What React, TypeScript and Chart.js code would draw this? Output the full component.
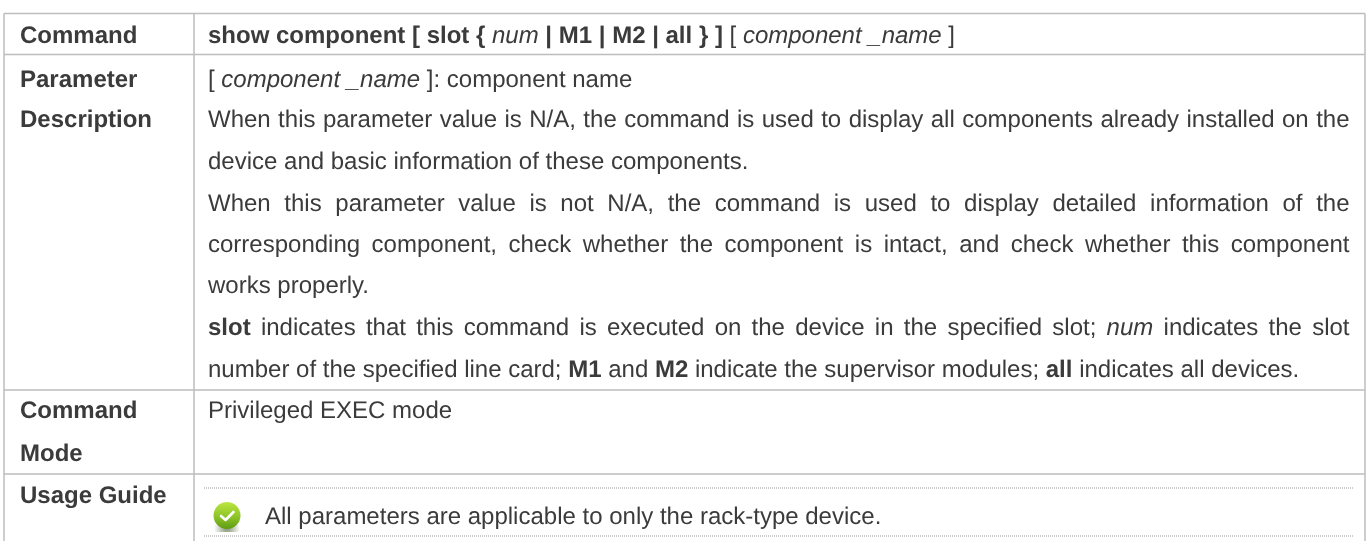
import React, { useEffect, useRef } from "react";
import { Chart, registerables } from "chart.js";

Chart.register(...registerables);

type Run = [string, string];

const columnRules = [4, 194, 1365];
const rowRules = [13.5, 54.5, 390, 474];
const noteRules = [488, 536];

const leftLabels: [string, number][] = [
  ["Command", 43],
  ["Parameter", 87],
  ["Description", 127],
  ["Command", 418],
  ["Mode", 461],
  ["Usage Guide", 503],
];

const commandLine: Run[] = [
  ["b", "show component [ slot { "],
  ["i", "num "],
  ["b", "| M1 | M2 | all } ] "],
  ["r", "[ "],
  ["i", "component _name "],
  ["r", "]"],
];
const paramLine1: Run[] = [
  ["r", "[ "],
  ["i", "component _name "],
  ["r", "]: component name"],
];
const paramLine2: Run[] = [["r", "When this parameter value is N/A, the command is used to display all components already installed on the"]];
const paramLine3: Run[] = [["r", "device and basic information of these components."]];
const paramLine4: Run[] = [["r", "When this parameter value is not N/A, the command is used to display detailed information of the"]];
const paramLine5: Run[] = [["r", "corresponding component, check whether the component is intact, and check whether this component"]];
const paramLine6: Run[] = [["r", "works properly."]];
const paramLine7: Run[] = [
  ["b", "slot "],
  ["r", "indicates that this command is executed on the device in the specified slot; "],
  ["i", "num "],
  ["r", "indicates the slot"],
];
const paramLine8: Run[] = [
  ["r", "number of the specified line card; "],
  ["b", "M1 "],
  ["r", "and "],
  ["b", "M2 "],
  ["r", "indicate the supervisor modules; "],
  ["b", "all "],
  ["r", "indicates all devices."],
];
const modeLine: Run[] = [["r", "Privileged EXEC mode"]];
const usageLine: Run[] = [["r", "All parameters are applicable to only the rack-type device."]];

const bodyLines: { x: number; y: number; runs: Run[]; justify: boolean }[] = [
  { x: 208, y: 43, runs: commandLine, justify: false },
  { x: 208, y: 87, runs: paramLine1, justify: false },
  { x: 208, y: 127, runs: paramLine2, justify: true },
  { x: 208, y: 169, runs: paramLine3, justify: false },
  { x: 208, y: 211, runs: paramLine4, justify: true },
  { x: 208, y: 252, runs: paramLine5, justify: true },
  { x: 208, y: 293, runs: paramLine6, justify: false },
  { x: 208, y: 335, runs: paramLine7, justify: true },
  { x: 208, y: 377, runs: paramLine8, justify: false },
  { x: 208, y: 418, runs: modeLine, justify: false },
  { x: 265, y: 524, runs: usageLine, justify: false },
];

const iconPoint = [{ x: 227, y: 516 }];
const FONT_PX = 24;
const RIGHT_EDGE = 1349.5;
const INK = "#3b3b3b";
const RULE = "#bdbdbd";
const FAMILY = '"Liberation Sans", Arial, sans-serif';

function fontFor(style: string) {
  const weight = style === "b" ? "bold " : "";
  const slant = style === "i" ? "italic " : "";
  return `${slant}${weight}${FONT_PX}px ${FAMILY}`;
}

function makeIcon() {
  const c = document.createElement("canvas");
  c.width = 32;
  c.height = 32;
  const g = c.getContext("2d")!;
  const shadow = g.createRadialGradient(16, 29, 2, 16, 29, 13);
  shadow.addColorStop(0, "rgba(70,90,40,0.55)");
  shadow.addColorStop(1, "rgba(70,90,40,0)");
  g.fillStyle = shadow;
  g.fillRect(2, 24, 28, 8);
  const fill = g.createLinearGradient(0, 2, 0, 29);
  fill.addColorStop(0, "#bce63f");
  fill.addColorStop(0.55, "#8cc428");
  fill.addColorStop(1, "#5f9a14");
  g.fillStyle = fill;
  g.beginPath();
  g.arc(16, 15.5, 13.5, 0, Math.PI * 2);
  g.fill();
  g.strokeStyle = "#ffffff";
  g.lineWidth = 2.6;
  g.lineCap = "round";
  g.lineJoin = "round";
  g.beginPath();
  g.moveTo(10, 16);
  g.lineTo(14.5, 20);
  g.lineTo(22.5, 12);
  g.stroke();
  return c;
}

const tablePlugin = {
  id: "tableText",
  beforeDraw(chart: any) {
    const { ctx, width, height } = chart;
    ctx.save();
    ctx.fillStyle = "#ffffff";
    ctx.fillRect(0, 0, width, height);
    ctx.restore();
  },
  afterDatasetsDraw(chart: any) {
    const { ctx } = chart;
    const sx = chart.scales.x;
    const sy = chart.scales.y;
    ctx.save();
    ctx.fillStyle = INK;
    ctx.textBaseline = "alphabetic";
    ctx.textAlign = "left";
    ctx.textRendering = "geometricPrecision";
    ctx.fontKerning = "normal";
    leftLabels.forEach(([label, y]) => {
      ctx.font = fontFor("b");
      ctx.fillText(label, sx.getPixelForValue(20), sy.getPixelForValue(y));
    });
    bodyLines.forEach((line) => {
      ctx.wordSpacing = "0px";
      let natural = 0;
      let gaps = 0;
      line.runs.forEach(([style, text]) => {
        ctx.font = fontFor(style);
        natural += ctx.measureText(text).width;
        gaps += (text.match(/ /g) || []).length;
      });
      const extra = line.justify && gaps ? (RIGHT_EDGE - line.x - natural) / gaps : 0;
      ctx.wordSpacing = `${extra}px`;
      let x = line.x;
      line.runs.forEach(([style, text]) => {
        ctx.font = fontFor(style);
        ctx.fillText(text, sx.getPixelForValue(x), sy.getPixelForValue(line.y));
        x += ctx.measureText(text).width;
      });
    });
    ctx.restore();
  },
};

function ruleDataset(points: { x: number; y: number }[], dash: number[] = [], color = RULE, width = 1.5) {
  return {
    type: "line" as const,
    data: points,
    borderColor: color,
    borderWidth: width,
    borderDash: dash,
    pointRadius: 0,
    fill: false,
    tension: 0,
    clip: false,
    parsing: false as const,
  };
}

export default function App() {
  const ref = useRef<HTMLCanvasElement | null>(null);
  useEffect(() => {
    if (!ref.current) return;
    const bottom = 541;
    const datasets: any[] = [
      ...columnRules.map((x) => ruleDataset([{ x, y: rowRules[0] }, { x, y: bottom }])),
      ...rowRules.map((y) => ruleDataset([{ x: columnRules[0], y }, { x: columnRules[2], y }])),
      ...noteRules.map((y) => ruleDataset([{ x: 204, y }, { x: 1353, y }], [1, 1], "#9a9a9a", 1)),
      {
        type: "scatter" as const,
        data: iconPoint,
        pointStyle: makeIcon(),
        pointRadius: 16,
        clip: false,
        parsing: false as const,
      },
    ];
    const chart = new Chart(ref.current, {
      type: "scatter",
      data: { datasets },
      plugins: [tablePlugin],
      options: {
        animation: false,
        responsive: false,
        events: [],
        layout: { padding: 0, autoPadding: false },
        plugins: { legend: { display: false }, tooltip: { enabled: false } },
        scales: {
          x: { type: "linear", display: false, min: 0, max: 1369 },
          y: { type: "linear", display: false, min: 0, max: 541, reverse: true },
        },
      },
    });
    return () => chart.destroy();
  }, []);
  return (
    <div style={{ position: "fixed", left: 0, top: 0, width: 1369, height: 541, background: "#fff" }}>
      <canvas ref={ref} width={1369} height={541} style={{ display: "block" }} />
    </div>
  );
}
